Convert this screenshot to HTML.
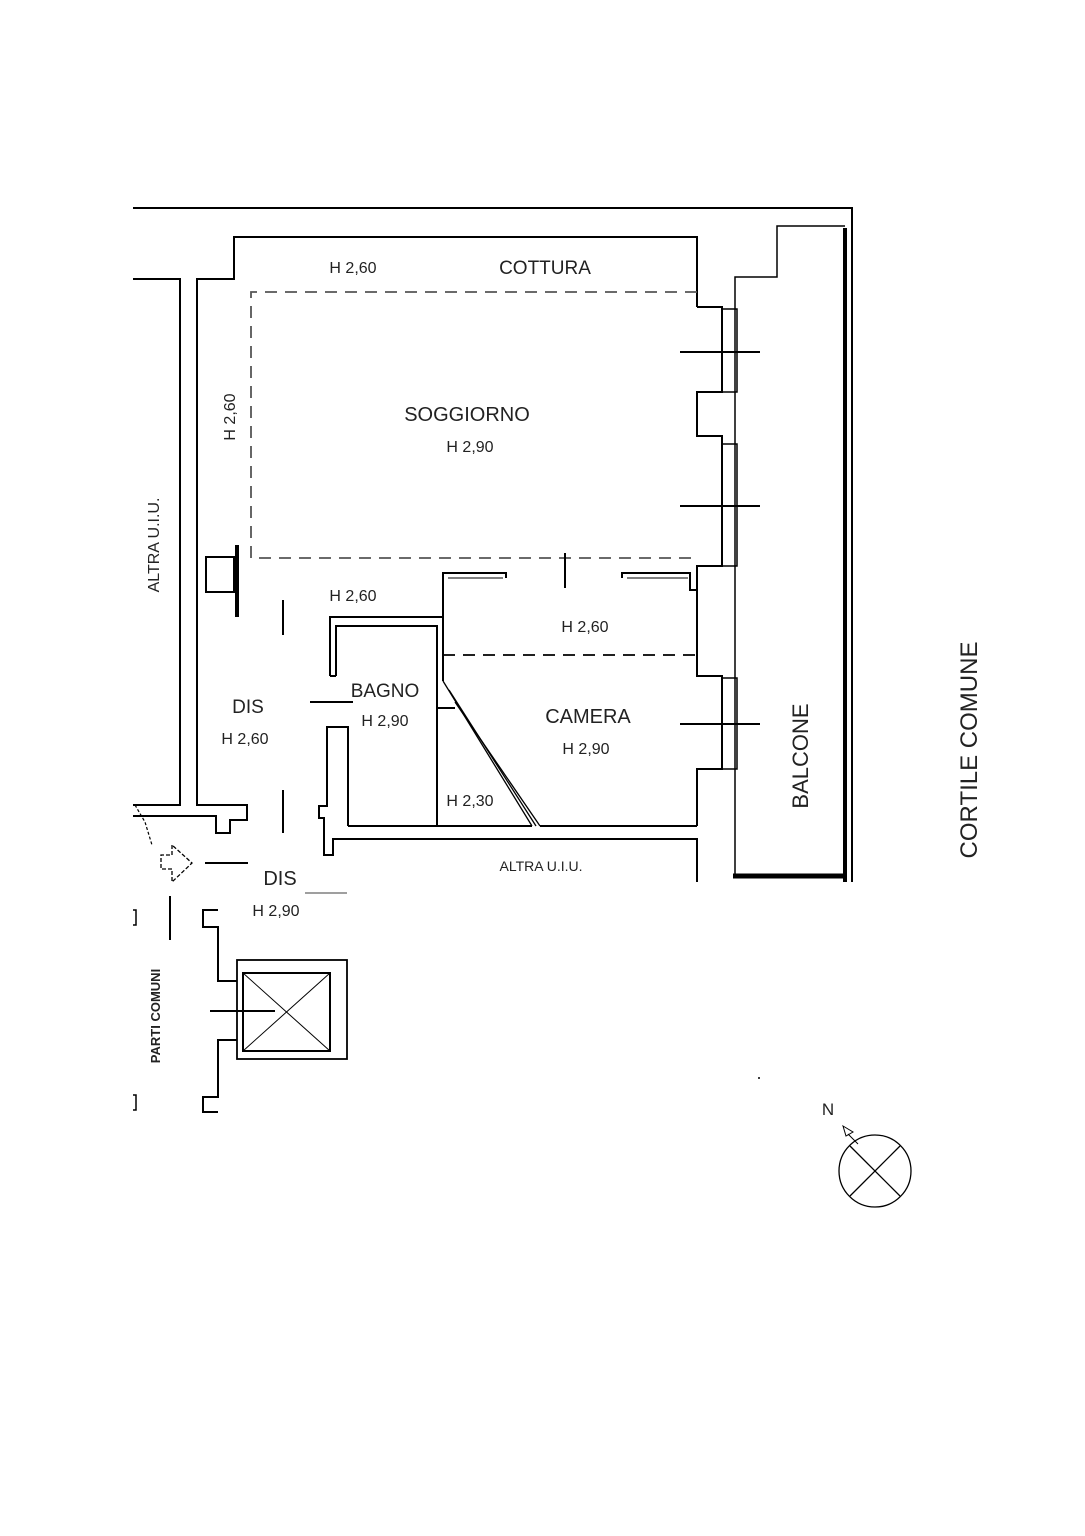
<!DOCTYPE html>
<html><head><meta charset="utf-8"><style>
html,body{margin:0;padding:0;background:#fff}
svg{display:block}
text{font-family:"Liberation Sans",sans-serif;fill:#222}
</style></head><body>
<svg width="1085" height="1536" viewBox="0 0 1085 1536" xmlns="http://www.w3.org/2000/svg">
<g fill="none" stroke="#000" stroke-width="2">
<!-- outer building lines -->
<polyline points="133,208 852,208 852,882"/>
<line x1="845" y1="228" x2="845" y2="882" stroke-width="4"/>
<line x1="733" y1="876" x2="845" y2="876" stroke-width="5"/>
<polyline points="845,226 777,226 777,277 735,277 735,876" stroke-width="1.5"/>
<!-- top apartment walls -->
<polyline points="133,279 180,279 180,805 133,805"/>
<polyline points="697,307 697,237 234,237 234,279 197,279 197,805 247,805 247,820 230,820 230,833 216,833 216,816 133,816"/>
<!-- right wall with windows -->
<polyline points="697,307 722,307 722,392 697,392 697,436 722,436 722,566 697,566 697,676 722,676 722,769 697,769 697,826"/>
<g stroke-width="1.5">
<rect x="722" y="309" width="15" height="83"/>
<rect x="722" y="444" width="15" height="122"/>
<rect x="722" y="678" width="15" height="91"/>
</g>
<line x1="680" y1="352" x2="760" y2="352"/>
<line x1="680" y1="506" x2="760" y2="506"/>
<line x1="680" y1="724" x2="760" y2="724"/>
<!-- dashed zones -->
<g stroke-dasharray="12,8" stroke-width="1.8">
<polyline points="697,292 251,292 251,558 697,558" stroke="#555"/>
<line x1="443" y1="655" x2="697" y2="655"/>
<line x1="437" y1="708" x2="437" y2="826"/>
</g>
<!-- closet -->
<rect x="206" y="557" width="28" height="35"/>
<line x1="237" y1="545" x2="237" y2="617" stroke-width="4"/>
<!-- door marks -->
<line x1="283" y1="600" x2="283" y2="635"/>
<line x1="283" y1="790" x2="283" y2="833"/>
<line x1="565" y1="553" x2="565" y2="588"/>
<!-- wall stubs -->
<polyline points="506,578 506,573 443,573 443,681"/>
<line x1="448" y1="578" x2="503" y2="578" stroke-width="1"/>
<polyline points="622,578 622,573 690,573 690,590 697,590"/>
<line x1="627" y1="578" x2="688" y2="578" stroke-width="1"/>
<!-- bagno -->
<polyline points="330,676 330,617 443,617"/>
<polyline points="336,676 336,626 437,626 437,826"/>
<line x1="330" y1="676" x2="336" y2="676"/>
<line x1="310" y1="702" x2="353" y2="702"/>
<polyline points="348,826 348,727 327,727 327,806 319,806 319,818 324,818 324,855 333,855 333,839 697,839 697,882"/>
<line x1="348" y1="826" x2="532" y2="826"/>
<line x1="540" y1="826" x2="697" y2="826"/>
<line x1="437" y1="708" x2="455" y2="708"/>
<g stroke-width="1.3">
<line x1="443" y1="681" x2="532" y2="826"/>
<line x1="455" y1="702" x2="540" y2="826"/>
<line x1="449" y1="690" x2="536" y2="826"/>
</g>
<!-- entrance -->
<polyline points="135,805 145,822 152,845" stroke-dasharray="3,2" stroke-width="1.2"/>
<polygon points="172,845 172,855 161,855 161,869 172,869 172,882 192,863" stroke-width="1.3" stroke-dasharray="4,2"/>
<line x1="205" y1="863" x2="248" y2="863"/>
<line x1="305" y1="893" x2="347" y2="893" stroke="#666" stroke-width="1.2"/>
<line x1="170" y1="896" x2="170" y2="940"/>
<!-- stairs / lift -->
<polyline points="218,910 203,910 203,927 218,927 218,981 237,981"/>
<polyline points="237,1040 218,1040 218,1097 203,1097 203,1112 218,1112"/>
<rect x="237" y="960" width="110" height="99" stroke-width="1.8"/>
<rect x="243" y="973" width="87" height="78"/>
<line x1="243" y1="973" x2="330" y2="1051" stroke-width="1"/>
<line x1="330" y1="973" x2="243" y2="1051" stroke-width="1"/>
<line x1="210" y1="1011" x2="275" y2="1011"/>
<polyline points="133,910 136,910 136,925 133,925" stroke-width="1.5"/>
<polyline points="133,1095 136,1095 136,1110 133,1110" stroke-width="1.5"/>
<!-- compass -->
<circle cx="875" cy="1171" r="36" stroke-width="1.3"/>
<line x1="850" y1="1146" x2="900" y2="1196" stroke-width="1.3"/>
<line x1="900" y1="1146" x2="850" y2="1196" stroke-width="1.3"/>
<polygon points="843,1126 853,1132 846,1136" stroke-width="1"/>
<line x1="848" y1="1134" x2="858" y2="1144" stroke-width="1"/>
</g>
<circle cx="759" cy="1078" r="1" fill="#000"/>
<g font-size="16" text-anchor="middle">
<text x="353" y="273">H 2,60</text>
<text x="545" y="274" font-size="19">COTTURA</text>
<text x="467" y="421" font-size="20">SOGGIORNO</text>
<text x="470" y="452">H 2,90</text>
<text x="353" y="601">H 2,60</text>
<text x="585" y="632">H 2,60</text>
<text x="385" y="697" font-size="19">BAGNO</text>
<text x="385" y="726">H 2,90</text>
<text x="248" y="713" font-size="19">DIS</text>
<text x="245" y="744">H 2,60</text>
<text x="588" y="723" font-size="20">CAMERA</text>
<text x="586" y="754">H 2,90</text>
<text x="470" y="806">H 2,30</text>
<text x="541" y="871" font-size="14">ALTRA U.I.U.</text>
<text x="280" y="885" font-size="20">DIS</text>
<text x="276" y="916">H 2,90</text>
<text x="828" y="1115" font-size="17">N</text>
<text transform="translate(235,417) rotate(-90)">H 2,60</text>
<text transform="translate(159,545) rotate(-90)" font-size="16">ALTRA U.I.U.</text>
<text transform="translate(808,756) rotate(-90)" font-size="22">BALCONE</text>
<text transform="translate(977,750) rotate(-90)" font-size="24">CORTILE COMUNE</text>
<text transform="translate(160,1016) rotate(-90)" font-size="13" font-weight="bold">PARTI COMUNI</text>
</g>
</svg>
</body></html>
